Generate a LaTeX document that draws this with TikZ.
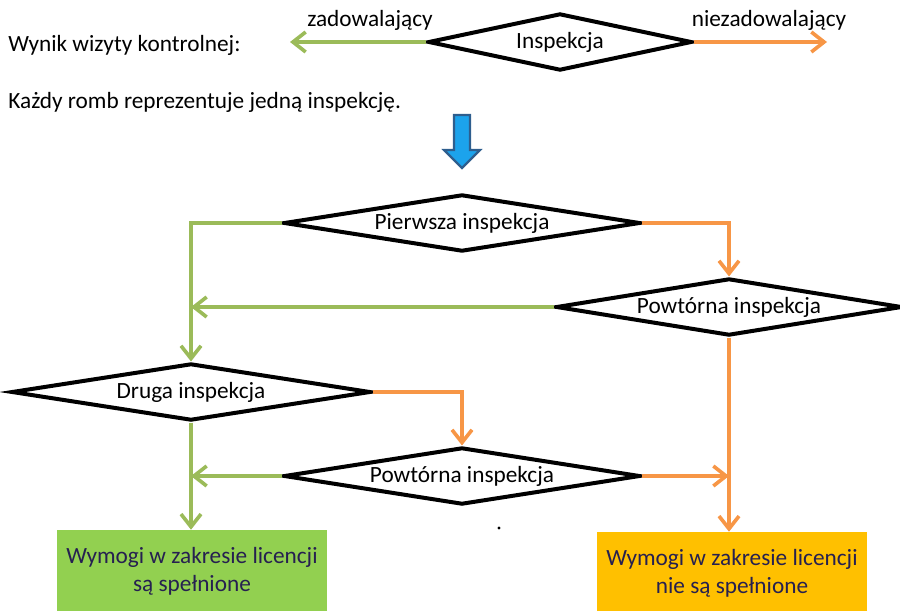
\documentclass[tikz,border=0pt]{standalone}
\usepackage{fontspec}
\setmainfont{Carlito}
\usetikzlibrary{shapes.geometric,arrows.meta}
\definecolor{okgreen}{HTML}{9BBB59}
\definecolor{failorange}{HTML}{F79646}
\definecolor{okfill}{HTML}{92D050}
\definecolor{failfill}{HTML}{FFC000}
\definecolor{boxtext}{HTML}{262050}
\definecolor{bluefill}{HTML}{1CA3EC}
\definecolor{blueline}{HTML}{2E5E8E}
\tikzset{
  romb/.style={draw,diamond,aspect=6,line width=2.2pt,minimum height=31.4pt,inner sep=0pt,fill=white},
  good/.style={okgreen,line width=2pt,-{Straight Barb[length=7pt,width=11pt]}},
  bad/.style={failorange,line width=2pt,-{Straight Barb[length=7pt,width=11pt]}},
  result/.style={minimum width=148.5pt,minimum height=45pt,align=center,text=boxtext,inner sep=0pt}
}
\begin{document}
\begin{tikzpicture}[x=0.55pt,y=-0.55pt,font=\fontsize{12.8}{15.5}\selectfont]
      \useasboundingbox (0,0) rectangle (900,610);
      \node[romb,minimum width=145pt] (insp) at (560,42) {Inspekcja};
      \node (zad) at (370,20) {zadowalający};
      \node (niezad) at (769,20) {niezadowalający};
      \node[anchor=west] (wynik) at (2,45) {Wynik wizyty kontrolnej:};
      \node[anchor=west] (kazdy) at (2,102) {Każdy romb reprezentuje jedną inspekcję.};
      \coordinate (zadend) at (290,42);
      \coordinate (niezadend) at (827,42);
      \filldraw[fill=bluefill,draw=blueline,line width=1.2pt]
        (454,115) -- (470,115) -- (470,150) -- (480,150) -- (462,168)
        -- (444,150) -- (454,150) -- cycle;
      \node[romb,minimum width=196pt] (pierwsza) at (462,223) {Pierwsza inspekcja};
      \node[romb,minimum width=190.3pt] (powt1) at (729,307) {Powtórna inspekcja};
      \node[romb,minimum width=197.5pt] (druga) at (191,392) {Druga inspekcja};
      \node[romb,minimum width=196pt] (powt2) at (462,476) {Powtórna inspekcja};
      \node[result,fill=okfill] (ok) at (192,571) {Wymogi w zakresie licencji\\są spełnione};
      \node[result,fill=failfill] (nok) at (732,573) {Wymogi w zakresie licencji\\nie są spełnione};
      \fill (499,528) circle (0.9pt);
      \begin{scope}
        \draw[good] (insp) to (zadend);
        \draw[bad] (insp) to (niezadend);
        \draw[good] (pierwsza.west) -| (druga.north);
        \draw[bad] (pierwsza.east) -| (powt1.north);
        \draw[good] (powt1.west) -- (powt1.west -| druga.north);
        \draw[bad] (powt1.south) -- (powt1.south |- nok.north);
        \draw[bad] (druga.east) -| (powt2.north);
        \draw[good] (druga.south) -- (druga.south |- ok.north);
        \draw[good] (powt2.west) -- (powt2.west -| druga.south);
        \draw[bad] (powt2.east) -- (powt2.east -| powt1.south);
      \end{scope}
    \end{tikzpicture}
\end{document}
